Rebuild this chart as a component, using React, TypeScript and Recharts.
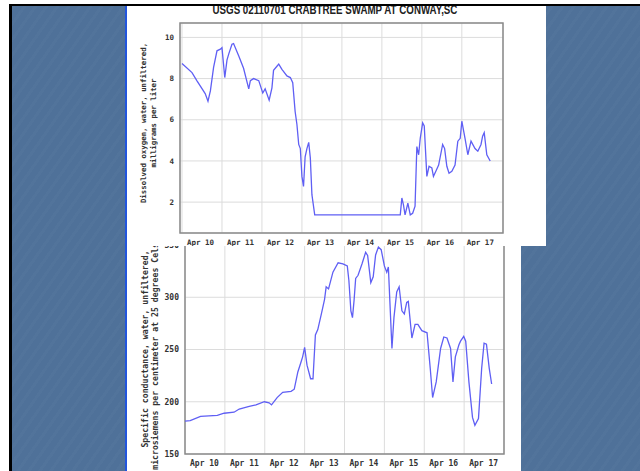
import React from 'react';
import { CartesianGrid, Line, LineChart, ReferenceArea, XAxis, YAxis } from 'recharts';

// days since Apr 10 00:00
const dayTicks = [0, 1, 2, 3, 4, 5, 6, 7];
const dayLabels = ['Apr 10', 'Apr 11', 'Apr 12', 'Apr 13', 'Apr 14', 'Apr 15', 'Apr 16', 'Apr 17'];
const sixHourTicks = Array.from({ length: 33 }, (_, i) => i / 4);

const doTicks = [2, 4, 6, 8, 10];
const scTicks = [150, 200, 250, 300, 350];

const doTime = [
  0, 0.25, 0.375, 0.58, 0.65, 0.71, 0.79, 0.875, 0.96, 1.0,
  1.07, 1.125, 1.17, 1.25, 1.29, 1.42, 1.54, 1.67, 1.71, 1.79,
  1.92, 2.02, 2.08, 2.18, 2.25, 2.29, 2.375, 2.42, 2.5, 2.625,
  2.71, 2.77, 2.83, 2.875, 2.92, 2.96, 3.0, 3.04, 3.08, 3.125,
  3.17, 3.21, 3.25, 3.32, 5.46, 5.5, 5.54, 5.58, 5.65, 5.71,
  5.77, 5.83, 5.875, 5.92, 5.96, 6.02, 6.06, 6.125, 6.18, 6.25,
  6.29, 6.35, 6.42, 6.52, 6.57, 6.625, 6.68, 6.75, 6.83, 6.9,
  6.96, 7.0, 7.08, 7.15, 7.23, 7.33, 7.4, 7.48, 7.52, 7.56,
  7.625, 7.71,
];
const doValue = [
  8.73, 8.29, 7.89, 7.27, 6.9, 7.4, 8.54, 9.35, 9.43, 9.5,
  8.05, 8.9, 9.2, 9.67, 9.7, 9.1, 8.5, 7.5, 7.9, 8.0,
  7.9, 7.3, 7.5, 6.95, 7.55, 8.4, 8.6, 8.7, 8.45, 8.13,
  8.05, 7.8, 6.4, 5.77, 4.8, 4.6, 3.25, 2.76, 4.2, 4.6,
  4.9, 4.15, 2.36, 1.38, 1.38, 2.2, 1.87, 1.38, 1.95, 1.38,
  1.46, 1.8, 4.7, 4.3, 5.1, 5.85, 5.7, 3.25, 3.74, 3.66,
  3.25, 3.5, 3.8, 4.8, 4.6, 3.74, 3.4, 3.5, 3.8, 4.96,
  5.1, 5.93, 5.1, 4.3, 4.96, 4.6, 4.47, 4.8, 5.2, 5.37,
  4.3, 4.0,
];

const scTime = [
  0, 0.13, 0.39, 0.81, 0.98, 1.23, 1.36, 1.61, 1.78, 1.99,
  2.11, 2.17, 2.31, 2.45, 2.66, 2.74, 2.83, 2.91, 2.95, 3.0,
  3.06, 3.15, 3.21, 3.27, 3.33, 3.42, 3.5, 3.54, 3.6, 3.71,
  3.84, 3.96, 4.07, 4.11, 4.16, 4.2, 4.24, 4.28, 4.34, 4.44,
  4.53, 4.58, 4.66, 4.72, 4.78, 4.85, 4.92, 5.0, 5.06, 5.1,
  5.19, 5.24, 5.31, 5.37, 5.44, 5.5, 5.56, 5.6, 5.69, 5.77,
  5.84, 5.94, 6.07, 6.15, 6.21, 6.3, 6.41, 6.49, 6.57, 6.66,
  6.72, 6.78, 6.87, 6.91, 6.99, 7.04, 7.12, 7.21, 7.27, 7.36,
  7.44, 7.5, 7.56, 7.63, 7.69,
];
const scValue = [
  181.5, 182, 186, 187, 189, 190, 193, 195.5, 197, 200,
  199, 197, 204, 209, 210, 212, 228.5, 238, 243, 252,
  235, 222, 222, 264, 269, 284, 298, 310, 308, 324,
  333, 332, 330, 316, 287, 280.5, 297, 318, 321, 332,
  343, 340, 314, 319.5, 340.5, 348, 345.5, 330, 324, 329,
  251, 280.5, 305, 310, 287, 284, 295, 296, 261, 274,
  274, 268, 266, 232, 204, 219, 251, 262, 261, 251,
  219, 243, 254.5, 258, 262.5, 258, 219, 185, 177.5, 184,
  232, 256, 255, 232, 217,
];

const doData = doTime.map((t, i) => ({ t, v: doValue[i] }));
const scData = scTime.map((t, i) => ({ t, v: scValue[i] }));

const MONO = '"DejaVu Sans Mono", "Liberation Mono", monospace';
const LINE = '#5f5ff4';

const DayTick = ({ x, y, payload, size }: any) => (
  <text x={x + 5} y={y + 12} fontFamily={MONO} fontSize={size} fontWeight="bold" fill="#333">
    {dayLabels[dayTicks.indexOf(payload.value)]}
  </text>
);

const ValueTick = ({ x, y, payload, size }: any) => (
  <text x={x - 6} y={y} dy="0.35em" textAnchor="end" fontFamily={MONO} fontSize={size} fontWeight="bold" fill="#333">
    {payload.value}
  </text>
);

function VLabel({ cx, cy, lines, size, gap }: { cx: number; cy: number; lines: string[]; size: number; gap: number }) {
  return (
    <div
      style={{
        position: 'absolute',
        left: cx - 150,
        top: cy - gap,
        width: 300,
        height: gap * 2,
        transform: 'rotate(-90deg)',
        textAlign: 'center',
        fontFamily: MONO,
        fontSize: size,
        fontWeight: 'bold',
        lineHeight: `${gap}px`,
        color: '#333',
        whiteSpace: 'nowrap',
      }}
    >
      {lines.map((l) => (
        <div key={l}>{l}</div>
      ))}
    </div>
  );
}

export default function App() {
  return (
    <div style={{ position: 'absolute', left: 0, top: 0, width: 640, height: 471, overflow: 'hidden', background: '#fff' }}>
      {/* slide */}
      <div
        style={{
          position: 'absolute',
          left: 9,
          top: 4,
          width: 628,
          height: 480,
          borderTop: '2px solid #000',
          borderLeft: '3px solid #000',
          borderRight: '3px solid #000',
          background:
            'repeating-linear-gradient(125deg, rgba(255,255,255,0.018) 0px, rgba(255,255,255,0.018) 3px, rgba(0,0,0,0) 3px, rgba(0,0,0,0) 9px), #4f7199',
        }}
      />
      <div style={{ position: 'absolute', left: 125, top: 6, width: 2, height: 470, background: '#2255dd' }} />

      {/* dissolved oxygen panel */}
      <div style={{ position: 'absolute', left: 127, top: 6, width: 419, height: 240, background: '#fff', overflow: 'hidden' }}>
        <div
          style={{
            position: 'absolute',
            left: 48,
            top: -3.5,
            width: 300,
            textAlign: 'center',
            fontFamily: '"Liberation Sans", Arial, sans-serif',
            fontWeight: 'bold',
            fontSize: 13,
            lineHeight: '13px',
            color: '#222',
            whiteSpace: 'nowrap',
            transform: 'scaleX(0.75)',
          }}
        >
          USGS 02110701 CRABTREE SWAMP AT CONWAY,SC
        </div>
        <VLabel cx={21.5} cy={117} size={7.4} gap={10} lines={['Dissolved oxygen, water, unfiltered,', 'milligrams per liter']} />
        <div style={{ position: 'absolute', left: 0, top: -1 }}>
          <LineChart width={419} height={241} data={doData} margin={{ top: 18, right: 43, bottom: 12, left: 0 }}>
            <CartesianGrid stroke="#dcdcdc" strokeWidth={1} xAxisId={0} yAxisId={0} />
            <XAxis
              xAxisId={0}
              dataKey="t"
              type="number"
              domain={[-0.05, 8.03]}
              ticks={dayTicks}
              interval={0}
              allowDataOverflow
              height={1}
              tickSize={0}
              tickMargin={0}
              tickLine={false}
              axisLine={false}
              tick={<DayTick size={7.5} />}
            />
            <XAxis xAxisId="mb" dataKey="t" type="number" domain={[-0.05, 8.03]} ticks={sixHourTicks} interval={0} allowDataOverflow height={1} mirror tickSize={3} tick={false} axisLine={false} tickLine={{ stroke: '#999' }} />
            <XAxis xAxisId="mt" orientation="top" dataKey="t" type="number" domain={[-0.05, 8.03]} ticks={sixHourTicks} interval={0} allowDataOverflow height={1} mirror tickSize={3} tick={false} axisLine={false} tickLine={{ stroke: '#999' }} />
            <YAxis
              yAxisId={0}
              type="number"
              domain={[0.5, 10.7]}
              ticks={doTicks}
              interval={0}
              allowDataOverflow
              width={53}
              tickSize={0}
              tickMargin={0}
              tickLine={false}
              axisLine={false}
              tick={<ValueTick size={7.5} />}
            />
            <ReferenceArea xAxisId={0} yAxisId={0} x1={-0.05} x2={8.03} y1={0.5} y2={10.7} fill="none" stroke="#8a8a8a" strokeWidth={1.5} ifOverflow="visible" />
            <Line xAxisId={0} yAxisId={0} type="linear" dataKey="v" stroke={LINE} strokeWidth={1.3} dot={false} isAnimationActive={false} />
          </LineChart>
        </div>
      </div>

      {/* specific conductance panel */}
      <div style={{ position: 'absolute', left: 127, top: 246, width: 394, height: 230, background: '#fff', overflow: 'hidden' }}>
        <VLabel cx={23} cy={103} size={8.2} gap={10} lines={['Specific conductance, water, unfiltered,', 'microsiemens per centimeter at 25 degrees Celsius']} />
        <div style={{ position: 'absolute', left: 0, top: -12 }}>
          <LineChart width={394} height={237} data={scData} margin={{ top: 11, right: 17, bottom: 16, left: 0 }}>
            <CartesianGrid stroke="#dcdcdc" strokeWidth={1} xAxisId={0} yAxisId={0} />
            <XAxis
              xAxisId={0}
              dataKey="t"
              type="number"
              domain={[0, 8]}
              ticks={dayTicks}
              interval={0}
              allowDataOverflow
              height={1}
              tickSize={0}
              tickMargin={0}
              tickLine={false}
              axisLine={false}
              tick={<DayTick size={8} />}
            />
            <XAxis xAxisId="mb" dataKey="t" type="number" domain={[0, 8]} ticks={sixHourTicks} interval={0} allowDataOverflow height={1} mirror tickSize={3} tick={false} axisLine={false} tickLine={{ stroke: '#999' }} />
            <YAxis
              yAxisId={0}
              type="number"
              domain={[150, 350]}
              ticks={scTicks}
              interval={0}
              allowDataOverflow
              width={58}
              tickSize={0}
              tickMargin={0}
              tickLine={false}
              axisLine={false}
              tick={<ValueTick size={8} />}
            />
            <ReferenceArea xAxisId={0} yAxisId={0} x1={0} x2={8} y1={150} y2={350} fill="none" stroke="#8a8a8a" strokeWidth={1.5} ifOverflow="visible" />
            <Line xAxisId={0} yAxisId={0} type="linear" dataKey="v" stroke={LINE} strokeWidth={1.3} dot={false} isAnimationActive={false} />
          </LineChart>
        </div>
      </div>
    </div>
  );
}
